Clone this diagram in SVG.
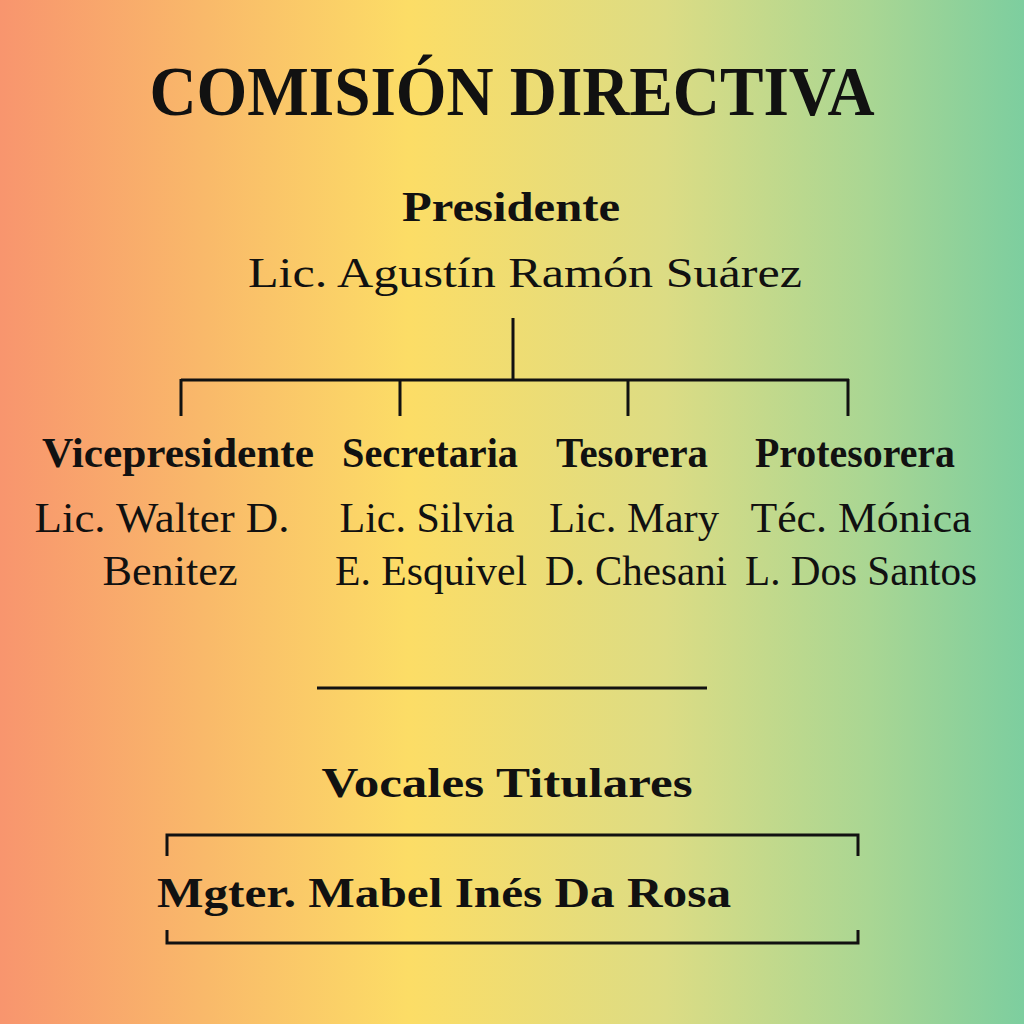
<svg xmlns="http://www.w3.org/2000/svg" width="1024" height="1024" viewBox="0 0 1024 1024">
<defs>
<linearGradient id="bg" x1="0" y1="0" x2="1" y2="0">
<stop offset="0" stop-color="#F8956E"/>
<stop offset="0.2" stop-color="#F9B96A"/>
<stop offset="0.4" stop-color="#FCDD66"/>
<stop offset="0.65" stop-color="#DCDC84"/>
<stop offset="0.85" stop-color="#A9D693"/>
<stop offset="1" stop-color="#7DCE9F"/>
</linearGradient>
<style>
text{font-family:"Liberation Serif","DejaVu Serif",serif;fill:#111;text-anchor:middle}
.title{font-size:70px;font-weight:bold}
.role{font-size:42px;font-weight:bold}
.name{font-size:42px}
.line{stroke:#111;stroke-width:3;fill:none}
</style>
</defs>
<rect width="1024" height="1024" fill="url(#bg)"/>
<text class="title" x="512" y="115" textLength="725" lengthAdjust="spacingAndGlyphs">COMISIÓN DIRECTIVA</text>
<g id="presidente">
<text class="role" x="511" y="221" font-size="48" textLength="218" lengthAdjust="spacingAndGlyphs">Presidente</text>
<text class="name" x="525" y="287" font-size="46" textLength="554" lengthAdjust="spacingAndGlyphs">Lic. Agustín Ramón Suárez</text>
</g>
<g id="connectors">
<path class="line" d="M513 318V380M181 380H849M181 379V416M400 379V416M628 379V416M848 379V416"/>
<path class="line" d="M317 688H707"/>
<path class="line" d="M167 856V835H858V856M167 930V943H858V930"/>
</g>
<g id="vicepresidente">
<text class="role" x="178" y="467" textLength="272" lengthAdjust="spacingAndGlyphs">Vicepresidente</text>
<text class="name" x="162" y="532" textLength="255" lengthAdjust="spacingAndGlyphs">Lic. Walter D.</text>
<text class="name" x="170" y="585" textLength="135" lengthAdjust="spacingAndGlyphs">Benitez</text>
</g>
<g id="secretaria">
<text class="role" x="430" y="467" textLength="176" lengthAdjust="spacingAndGlyphs">Secretaria</text>
<text class="name" x="427" y="532" textLength="175" lengthAdjust="spacingAndGlyphs">Lic. Silvia</text>
<text class="name" x="431" y="585" textLength="192" lengthAdjust="spacingAndGlyphs">E. Esquivel</text>
</g>
<g id="tesorera">
<text class="role" x="632" y="467" textLength="152" lengthAdjust="spacingAndGlyphs">Tesorera</text>
<text class="name" x="634" y="532" textLength="170" lengthAdjust="spacingAndGlyphs">Lic. Mary</text>
<text class="name" x="636" y="585" textLength="182" lengthAdjust="spacingAndGlyphs">D. Chesani</text>
</g>
<g id="protesorera">
<text class="role" x="855" y="467" textLength="200" lengthAdjust="spacingAndGlyphs">Protesorera</text>
<text class="name" x="861" y="532" textLength="221" lengthAdjust="spacingAndGlyphs">Téc. Mónica</text>
<text class="name" x="861" y="585" textLength="232" lengthAdjust="spacingAndGlyphs">L. Dos Santos</text>
</g>
<g id="vocales">
<text class="role" x="507" y="797" font-size="48" textLength="371" lengthAdjust="spacingAndGlyphs">Vocales Titulares</text>
<text class="role" x="444" y="907" font-size="52" textLength="574" lengthAdjust="spacingAndGlyphs">Mgter. Mabel Inés Da Rosa</text>
</g>
</svg>
